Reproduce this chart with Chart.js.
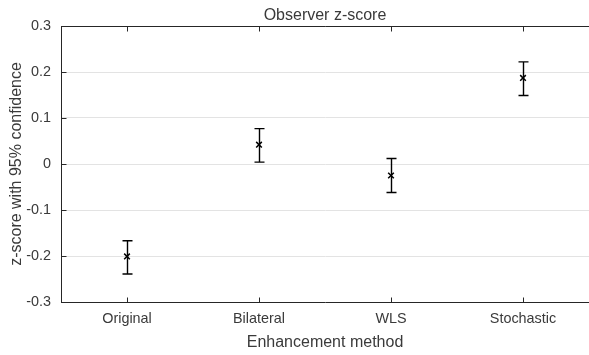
<!DOCTYPE html>
<html>
<head>
<meta charset="utf-8">
<script src="https://cdn.jsdelivr.net/npm/chart.js@4.4.1/dist/chart.umd.min.js"></script>
<style>
  html, body { margin: 0; padding: 0; background: #fff; overflow: hidden; }
  canvas { display: block; }
</style>
</head>
<body>
<canvas id="zscore" width="589" height="355"></canvas>
<script>
// categories and values
var methods = ["Original", "Bilateral", "WLS", "Stochastic"];
var zScore = [-0.201, 0.042, -0.025, 0.187];
var ciLow  = [-0.239, 0.004, -0.062, 0.149];
var ciHigh = [-0.167, 0.077, 0.012, 0.222];
var yTicks = [-0.3, -0.2, -0.1, 0, 0.1, 0.2, 0.3];

var axisColor = "#262626";
var textColor = "#3a3a3a";
var fontFamily = "'Liberation Sans', Arial, Helvetica, sans-serif";

// error bars + matlab style inward ticks and top frame line
var errorBars = {
  id: "errorBars",
  afterDatasetsDraw: function(chart) {
    var ctx = chart.ctx;
    var xs = chart.scales.x, ys = chart.scales.y;
    var area = chart.chartArea;
    ctx.save();
    ctx.strokeStyle = "#000";
    ctx.lineWidth = 1.4;
    for (var i = 0; i < zScore.length; i++) {
      var x = Math.round(xs.getPixelForValue(i)) + 0.5;
      var y1 = ys.getPixelForValue(ciLow[i]);
      var y2 = ys.getPixelForValue(ciHigh[i]);
      ctx.beginPath();
      ctx.moveTo(x, y1); ctx.lineTo(x, y2);
      ctx.moveTo(x - 5, y1); ctx.lineTo(x + 5, y1);
      ctx.moveTo(x - 5, y2); ctx.lineTo(x + 5, y2);
      ctx.stroke();
    }
    // frame + ticks
    ctx.strokeStyle = axisColor;
    ctx.lineWidth = 1;
    ctx.beginPath();
    var top = Math.round(area.top) + 0.5;
    var bot = Math.round(area.bottom) + 0.5;
    var left = Math.round(area.left) + 0.5;
    ctx.moveTo(left, top); ctx.lineTo(chart.width, top);
    for (var j = 0; j < methods.length; j++) {
      var tx = Math.round(xs.getPixelForValue(j)) + 0.5;
      ctx.moveTo(tx, bot); ctx.lineTo(tx, bot - 5);
      ctx.moveTo(tx, top); ctx.lineTo(tx, top + 5);
    }
    yTicks.forEach(function(v) {
      var ty = Math.round(ys.getPixelForValue(v)) + 0.5;
      ctx.moveTo(left, ty); ctx.lineTo(left + 5, ty);
    });
    ctx.stroke();
    ctx.restore();
  }
};

var ctx = document.getElementById("zscore").getContext("2d");
var chart = new Chart(ctx, {
  type: "line",
  data: {
    labels: methods,
    datasets: [{
      label: "z-score",
      data: zScore,
      showLine: false,
      pointStyle: "crossRot",
      pointRadius: 4,
      pointBorderWidth: 1.5,
      borderColor: "#000",
      backgroundColor: "#000"
    }]
  },
  options: {
    responsive: false,
    animation: false,
    layout: { padding: 0, autoPadding: false },
    plugins: {
      legend: { display: false },
      tooltip: { enabled: false },
      title: {
        display: true,
        fullSize: false,
        text: "Observer z-score",
        color: textColor,
        font: { family: fontFamily, size: 16, weight: "normal" },
        padding: { top: 6, bottom: 0.8 }
      }
    },
    scales: {
      x: {
        type: "category",
        offset: true,
        grid: { display: false, drawTicks: false },
        border: { display: true, color: axisColor, width: 1 },
        ticks: {
          color: textColor,
          padding: 8,
          maxRotation: 0,
          font: { family: fontFamily, size: 14.4 }
        },
        title: {
          display: true,
          text: "Enhancement method",
          color: textColor,
          font: { family: fontFamily, size: 16 },
          padding: { top: 2.4, bottom: 2.4 }
        },
        afterFit: function(scale) {
          scale.height = 53;
          scale.paddingLeft = 0;
          scale.paddingRight = 0;
        }
      },
      y: {
        min: -0.3,
        max: 0.3,
        grid: { color: "#e3e3e3", drawTicks: false },
        border: { display: true, color: axisColor, width: 1 },
        afterBuildTicks: function(scale) {
          scale.ticks = yTicks.map(function(v) { return { value: v }; });
        },
        ticks: {
          color: textColor,
          padding: 10,
          font: { family: fontFamily, size: 14.4 },
          callback: function(v) { return String(Math.round(v * 10) / 10); }
        },
        title: {
          display: true,
          text: "z-score with 95% confidence",
          color: textColor,
          font: { family: fontFamily, size: 16 },
          padding: { top: 7.4, bottom: 7.4 }
        },
        afterFit: function(scale) { scale.width = 61; }
      }
    }
  },
  plugins: [errorBars]
});
</script>
</body>
</html>
